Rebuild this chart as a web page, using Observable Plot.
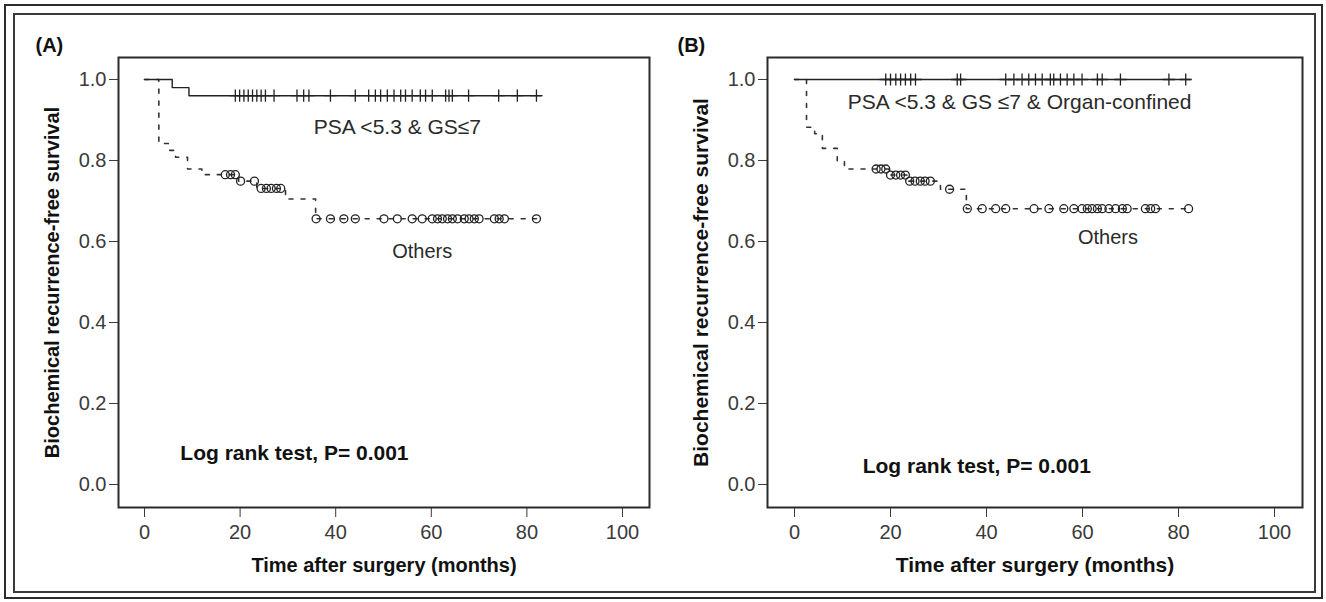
<!DOCTYPE html>
<html><head><meta charset="utf-8">
<script src="https://cdn.jsdelivr.net/npm/d3@7"></script>
<script src="https://cdn.jsdelivr.net/npm/@observablehq/plot@0.6"></script>
<style>
html,body{margin:0;padding:0;background:#fff;}
#page{position:relative;width:1326px;height:602px;overflow:hidden;background:#fff;}
.border{position:absolute;box-sizing:border-box;}
#outer{left:4px;top:4px;width:1319px;height:595px;border:2px solid #2b2b2b;}
#inner{left:13px;top:13px;width:1303px;height:580px;border:2px solid #3a3a3a;}
.panel{position:absolute;top:0;}
#panelA{left:0px;}
#panelB{left:663px;}
</style></head>
<body>
<div id="page">
  <div id="outer" class="border"></div>
  <div id="inner" class="border"></div>
  <div id="panelA" class="panel"></div>
  <div id="panelB" class="panel"></div>
</div>
<script>
// ---------- data ----------
const xTicks = [0, 20, 40, 60, 80, 100];
const yTicks = [0, 0.2, 0.4, 0.6, 0.8, 1.0];
const xTitle = "Time after surgery (months)";
const yTitle = "Biochemical recurrence-free survival";
const logRankText = "Log rank test, P= 0.001";

// Panel A
const aLetter = "(A)";
const aTopLabel = "PSA <5.3 & GS\u22647";
const aOthLabel = "Others";
const aTopTimes = [0, 5.8, 9.3, 83.0];
const aTopSurv  = [1.0, 0.98, 0.96, 0.96];
const aTopCensor = [19.0, 19.9, 20.8, 21.7, 22.6, 23.5, 24.4, 25.3, 27.1, 31.9, 33.3, 34.4, 38.9,
  44.1, 46.9, 48.3, 49.4, 50.8, 52.2, 53.6, 54.6, 56.0, 57.7, 58.8, 60.2, 63.0, 63.7, 64.4, 67.8,
  74.1, 78.0, 82.0];
const aOthTimes = [0, 3.0, 5.0, 6.5, 9.0, 12.0, 19.7, 23.5, 29.5, 35.8, 82.0];
const aOthSurv  = [1.0, 0.842, 0.825, 0.808, 0.779, 0.765, 0.749, 0.731, 0.705, 0.656, 0.656];
const aOthCensor = [16.9, 18.0, 19.0, 20.1, 23.0, 24.4, 25.5, 26.5, 27.6, 28.5,
  35.9, 38.9, 41.7, 44.1, 50.1, 52.9, 56.0, 58.1, 60.2, 61.3, 62.3, 63.4, 64.4, 65.5, 66.9, 67.9,
  69.0, 70.0, 73.2, 74.2, 75.3, 82.0];

// Panel B
const bLetter = "(B)";
const bTopLabel = "PSA <5.3 & GS \u22647 & Organ-confined";
const bOthLabel = "Others";
const bTopTimes = [0, 82.5];
const bTopSurv  = [1.0, 1.0];
const bTopCensor = [19.0, 20.0, 21.1, 22.1, 23.1, 24.2, 25.2, 33.9, 34.6, 44.0, 45.7, 47.4, 48.8,
  50.2, 51.6, 53.3, 54.0, 55.4, 56.8, 58.2, 59.9, 63.1, 64.1, 67.9, 78.0, 81.5];
const bOthTimes = [0, 2.5, 4.2, 5.8, 8.9, 10.4, 19.6, 23.4, 30.4, 35.8, 82.1];
const bOthSurv  = [1.0, 0.882, 0.866, 0.830, 0.797, 0.779, 0.764, 0.749, 0.729, 0.681, 0.681];
const bOthCensor = [17.0, 18.0, 19.0, 20.0, 21.1, 22.1, 23.1, 24.0, 25.1, 26.2, 27.2, 28.3, 32.3,
  36.0, 39.1, 41.9, 44.0, 49.9, 53.0, 56.1, 58.2, 59.9, 61.0, 62.0, 63.1, 64.1, 65.5, 66.9, 68.3,
  69.3, 73.1, 74.2, 75.2, 82.1];

// ---------- helpers ----------
const FONT = "'Liberation Sans', Arial, Helvetica, sans-serif";
function steps(times, surv) { return times.map((t, i) => ({t, s: surv[i]})); }
function stepAt(times, surv, t) {
  let v = surv[0];
  for (let i = 0; i < times.length; i++) if (times[i] <= t) v = surv[i];
  return v;
}
function censorRows(censor, times, surv) {
  return censor.map(t => ({t, s: stepAt(times, surv, t)}));
}

function panel(cfg) {
  return Plot.plot({
    width: 663, height: 602,
    marginLeft: cfg.marginLeft, marginRight: cfg.marginRight, marginTop: 57, marginBottom: 95,
    x: {domain: cfg.xDomain, ticks: xTicks, tickSize: 10, tickPadding: 7, label: null},
    y: {domain: [-0.0568, 1.0543], ticks: yTicks, tickFormat: ".1f", tickSize: 9, tickPadding: 3, label: null},
    style: {fontFamily: FONT, fontSize: "20px", color: "#3a3a3a", background: "transparent", overflow: "visible"},
    marks: [
      Plot.frame({stroke: "#2a2a2a", strokeWidth: 2}),
      Plot.line(steps(cfg.othTimes, cfg.othSurv), {x: "t", y: "s", curve: "step-after",
        stroke: "#333", strokeWidth: 1.6, strokeDasharray: "4,8"}),
      Plot.line(steps(cfg.topTimes, cfg.topSurv), {x: "t", y: "s", curve: "step-after",
        stroke: "#222", strokeWidth: 1.4}),
      Plot.dot(censorRows(cfg.topCensor, cfg.topTimes, cfg.topSurv), {x: "t", y: "s", symbol: "plus",
        r: 4, stroke: "#222", strokeWidth: 1.3}),
      Plot.dot(censorRows(cfg.othCensor, cfg.othTimes, cfg.othSurv), {x: "t", y: "s",
        r: 4, stroke: "#222", fill: "none", strokeWidth: 1.3}),
      Plot.text([cfg.topLabel], {x: cfg.topPos[0], y: cfg.topPos[1], text: d => d,
        fontSize: 21, fill: "#2a2a2a", fontFamily: FONT}),
      Plot.text([cfg.othLabel], {x: cfg.othPos[0], y: cfg.othPos[1], text: d => d,
        fontSize: 20, fill: "#2a2a2a", fontFamily: FONT}),
      Plot.text([logRankText], {x: cfg.logPos[0], y: cfg.logPos[1], text: d => d, textAnchor: "start",
        fontSize: 21, fontWeight: "bold", fill: "#111", fontFamily: FONT}),
      Plot.text([xTitle], {frameAnchor: "bottom", dy: 58, text: d => d, lineAnchor: "middle", textAnchor: "middle",
        fontSize: cfg.titleSize, fontWeight: "bold", fill: "#111", fontFamily: FONT}),
      Plot.text([yTitle], {frameAnchor: "left", dx: -66, rotate: -90, text: d => d, lineAnchor: "middle",
        textAnchor: "middle",
        fontSize: cfg.titleSize, fontWeight: "bold", fill: "#111", fontFamily: FONT}),
      Plot.text([cfg.letter], {frameAnchor: "top-left", dx: cfg.letterDx, dy: -12, text: d => d,
        textAnchor: "start", lineAnchor: "middle", fontSize: 20, fontWeight: "bold", fill: "#111", fontFamily: FONT})
    ]
  });
}

document.getElementById("panelA").appendChild(panel({
  marginLeft: 118, marginRight: 14, xDomain: [-5.44, 105.65],
  topTimes: aTopTimes, topSurv: aTopSurv, topCensor: aTopCensor,
  othTimes: aOthTimes, othSurv: aOthSurv, othCensor: aOthCensor,
  topLabel: aTopLabel, othLabel: aOthLabel, letter: aLetter,
  topPos: [52.9, 0.882], othPos: [58.1, 0.574], logPos: [7.5, 0.078],
  titleSize: 20, letterDx: -83
}));
document.getElementById("panelB").appendChild(panel({
  marginLeft: 104, marginRight: 24, xDomain: [-5.63, 105.83],
  topTimes: bTopTimes, topSurv: bTopSurv, topCensor: bTopCensor,
  othTimes: bOthTimes, othSurv: bOthSurv, othCensor: bOthCensor,
  topLabel: bTopLabel, othLabel: bOthLabel, letter: bLetter,
  topPos: [46.9, 0.944], othPos: [65.3, 0.61], logPos: [14.2, 0.045],
  titleSize: 21, letterDx: -90
}));
</script>
</body></html>
